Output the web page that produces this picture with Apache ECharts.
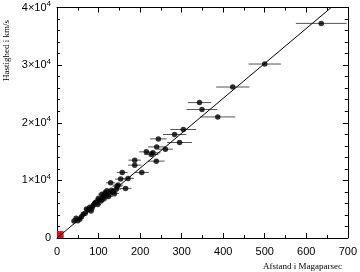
<!DOCTYPE html>
<html><head><meta charset="utf-8">
<script src="https://cdn.jsdelivr.net/npm/echarts@6/dist/echarts.min.js"></script>
<style>html,body{margin:0;padding:0;background:#fff}#c{width:360px;height:272px}</style>
</head><body><div id="c"></div>
<script>
// Distance (Mpc), velocity (km/s), distance error (Mpc)
const distance = [636,500,423,343,349,387,304,283,295,244,240,261,231,227,215,239,187,187,157,204,171,153,129,147,165,
  41,46,59,63,71,79,87,95,103,111,119,127,135,143,68,75,84,90,98,100,106,113,116,124,131,138,145,120,50,55,92,108,82];
const velocity = [37240,30190,26200,23500,22290,21010,18830,17960,16570,17200,15810,15410,14780,14500,14950,13340,13510,12640,11380,11380,10340,10220,9580,9180,8610,
  2940,3410,3690,4100,5020,5320,5660,6290,6580,7150,7390,7740,8020,8490,4300,4900,5200,5900,5800,6900,6400,6800,7800,7200,8300,7700,9000,8200,3000,3300,6100,7600,4700];
const distErr = [61,39,40,28,37,42,31,28,30,20,21,18,18,17,17,20,15,16,13,17,14,13,11,12,14,
  4,4,5,5,6,6,7,8,8,9,9,10,11,11,5,6,7,7,8,8,8,9,9,10,10,11,12,9,4,4,7,9,6];
const fitX = [0, 660];
const fitY = [0, 40000];
const localBox = [[0,0],[16,1200]];
const xTicks = [0,100,200,300,400,500,600,700];
const yTicks = [0,10000,20000,30000,40000];

const pts = distance.map((d,i)=>[d, velocity[i]]);
const errs = distance.map((d,i)=>[d, velocity[i], distErr[i]]);
const fit = fitX.map((x,i)=>[x, fitY[i]]);

const chart = echarts.init(document.getElementById('c'), null, {renderer:'canvas'});
const lab = {fontFamily:'Liberation Sans', fontSize:11, color:'#000'};
const axBase = {type:'value', splitLine:{show:false},
  axisLine:{show:true, onZero:false, lineStyle:{color:'#000', width:1}},
  axisTick:{show:true, inside:true, length:5, lineStyle:{color:'#000'}},
  minorTick:{show:true, length:3, lineStyle:{color:'#000'}}};
chart.setOption({
  animation:false,
  grid:{left:57, right:10, top:7, bottom:34},
  xAxis:[
    Object.assign({}, axBase, {min:0, max:700, interval:100, position:'bottom',
      minorTick:Object.assign({}, axBase.minorTick, {splitNumber:2}),
      axisLabel:Object.assign({margin:8, formatter:v=>xTicks.includes(v)?String(v):''}, lab)}),
    Object.assign({}, axBase, {min:0, max:700, interval:100, position:'top',
      minorTick:Object.assign({}, axBase.minorTick, {splitNumber:2}), axisLabel:{show:false}})
  ],
  yAxis:[
    Object.assign({}, axBase, {min:0, max:40000, interval:10000, position:'left',
      minorTick:Object.assign({}, axBase.minorTick, {splitNumber:5}),
      axisLabel:Object.assign({margin:6, formatter:v=>!yTicks.includes(v)?'':(v===0?'0':(v/10000)+'×10{s|4}'),
        rich:{s:{fontFamily:'Liberation Sans', fontSize:8, color:'#000', verticalAlign:'bottom', padding:[0,0,7,0]}}}, lab)}),
    Object.assign({}, axBase, {min:0, max:40000, interval:10000, position:'right',
      minorTick:Object.assign({}, axBase.minorTick, {splitNumber:5}), axisLabel:{show:false}})
  ],
  graphic:[
    {type:'text', left:2, top:20, rotation:Math.PI/2, style:{text:'Hastighed i km/s', font:'9px "Liberation Serif"', fill:'#000'}},
    {type:'text', right:18, bottom:1, style:{text:'Afstand i Magaparsec', font:'9px "Liberation Serif"', fill:'#000'}}
  ],
  series:[
    {type:'custom', data:errs, z:2, silent:true,
      renderItem:(params, api)=>{
        const y = api.value(1), x = api.value(0), e = api.value(2);
        const a = api.coord([x-e, y]), b = api.coord([x+e, y]);
        return {type:'line', shape:{x1:a[0], y1:a[1], x2:b[0], y2:b[1]}, style:{stroke:'#555', lineWidth:1}};
      }},
    {type:'line', data:fit, symbol:'none', z:3, lineStyle:{color:'#000', width:1}},
    {type:'scatter', data:pts, symbol:'circle', symbolSize:5.5, z:4, itemStyle:{color:'#000'},
      markArea:{silent:true, itemStyle:{color:'#e01010'}, data:[[{coord:localBox[0]},{coord:localBox[1]}]]}}
  ]
});
</script></body></html>
